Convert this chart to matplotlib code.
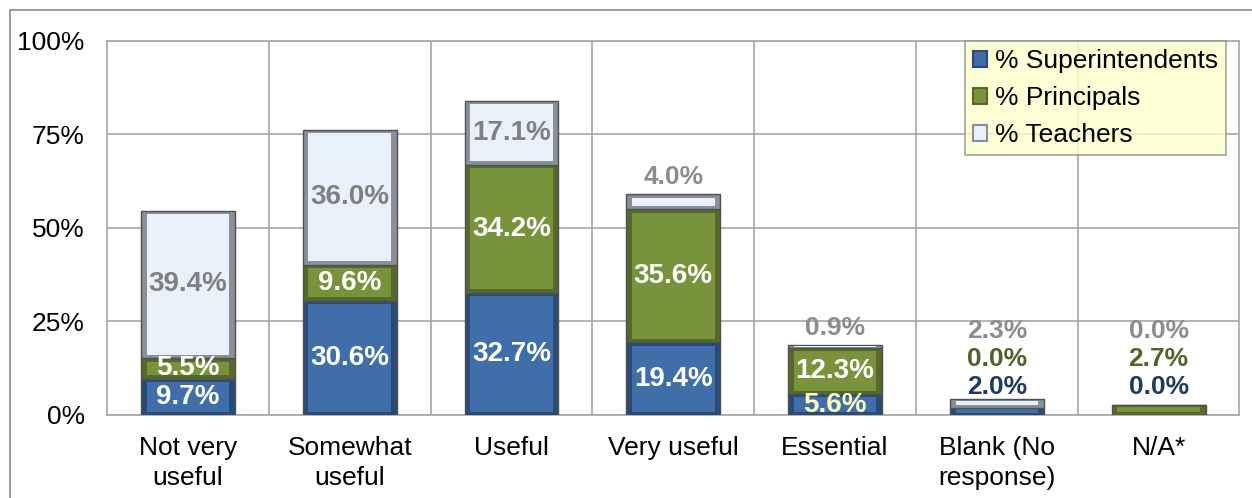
import matplotlib.pyplot as plt
import matplotlib.patches as mpatches
import numpy as np

plt.rcParams['font.family'] = ['Liberation Sans', 'DejaVu Sans']

# Data
categories = ['Not very\nuseful', 'Somewhat\nuseful', 'Useful', 'Very useful',
              'Essential', 'Blank (No\nresponse)', 'N/A*']
superintendents = [9.7, 30.6, 32.7, 19.4, 5.6, 2.0, 0.0]
principals = [5.5, 9.6, 34.2, 35.6, 12.3, 0.0, 2.7]
teachers = [39.4, 36.0, 17.1, 4.0, 0.9, 2.3, 0.0]
series_names = ['% Superintendents', '% Principals', '% Teachers']

face_colors = ['#3F6EA8', '#77933C', '#E8F0FA']
edge_colors = ['#2A4B78', '#56692A', '#8A9099']
label_colors = ['white', 'white', '#808080']
outside_colors = ['#1F3A60', '#4F6228', '#8C8C8C']

fig = plt.figure(figsize=(12.52, 4.98), dpi=100)
ax = fig.add_axes([0.0855, 0.1667, 0.9045, 0.751])

# outer chart border
fig.patches.append(mpatches.Rectangle((10 / 1252, -0.01), 1.0, 1 - 10 / 498 + 0.01,
                                      transform=fig.transFigure, fill=False,
                                      edgecolor='#8C8C8C', linewidth=1.2))

x = np.arange(len(categories))
width = 0.58
series = [superintendents, principals, teachers]
bottom = np.zeros(len(categories))

for s, vals in enumerate(series):
    vals = np.array(vals)
    # outer (dark) bar gives bevelled edge look
    ax.bar(x, vals, width, bottom=bottom, color=edge_colors[s],
           edgecolor='#505050', linewidth=1.0, zorder=3)
    # inner lighter face
    inset_y = np.minimum(0.9, vals * 0.25)
    ax.bar(x, np.maximum(vals - 2 * inset_y, 0), width - 0.07,
           bottom=bottom + inset_y, color=face_colors[s], linewidth=0, zorder=4)
    bottom += vals

totals = bottom

# labels
fs_lab = 20
bottom = np.zeros(len(categories))
for s, vals in enumerate(series):
    for i, v in enumerate(vals):
        if totals[i] < 5:
            # tiny bars: labels stacked above the bar
            levels = [7.6, 15.0, 22.4]
            ax.text(x[i], levels[s], f'{v:.1f}%', ha='center', va='center',
                    fontsize=19, fontweight='bold', color=outside_colors[s], zorder=6)
        elif v < 5:
            ax.text(x[i], totals[i] + 4.5, f'{v:.1f}%', ha='center', va='center',
                    fontsize=19, fontweight='bold', color=outside_colors[s], zorder=6)
        else:
            col = label_colors[s]
            if s == 0 and v < 8:
                col = '#FFFFC0'
            ax.text(x[i], bottom[i] + v / 2, f'{v:.1f}%', ha='center', va='center',
                    fontsize=fs_lab, fontweight='bold', color=col, zorder=6)
    bottom += np.array(vals)

ax.set_xlim(-0.5, len(categories) - 0.5)
ax.set_ylim(0, 100)
ax.set_yticks([0, 25, 50, 75, 100])
ax.set_yticklabels(['0%', '25%', '50%', '75%', '100%'])
ax.set_xticks(x)
ax.set_xticklabels(categories, fontsize=19, linespacing=1.3)
ax.tick_params(axis='y', labelsize=19, length=0, pad=16)
ax.tick_params(axis='x', length=0, pad=15)

ax.yaxis.grid(True, color='#A6A6A6', linewidth=1.2, zorder=0)
for b in np.arange(0.5, len(categories) - 0.5):
    ax.axvline(b, color='#A6A6A6', linewidth=1.2, zorder=0)
for sp in ax.spines.values():
    sp.set_color('#A6A6A6')
    sp.set_linewidth(1.2)
ax.set_axisbelow(True)

handles = [mpatches.Patch(facecolor=face_colors[k], edgecolor=edge_colors[k], linewidth=1.5)
           for k in range(3)]
leg = ax.legend(handles, series_names, loc='upper right', bbox_to_anchor=(0.9885, 1.0),
                fontsize=19, frameon=True, fancybox=False, handlelength=0.55,
                handleheight=0.55, handletextpad=0.3, borderpad=0.3, labelspacing=0.5,
                borderaxespad=0.0)
leg.get_frame().set_facecolor('#FFFFCC')
leg.get_frame().set_edgecolor('#8C8C8C')
leg.get_frame().set_linewidth(1.2)
leg.set_zorder(10)

fig.savefig('out.png', dpi=100)
